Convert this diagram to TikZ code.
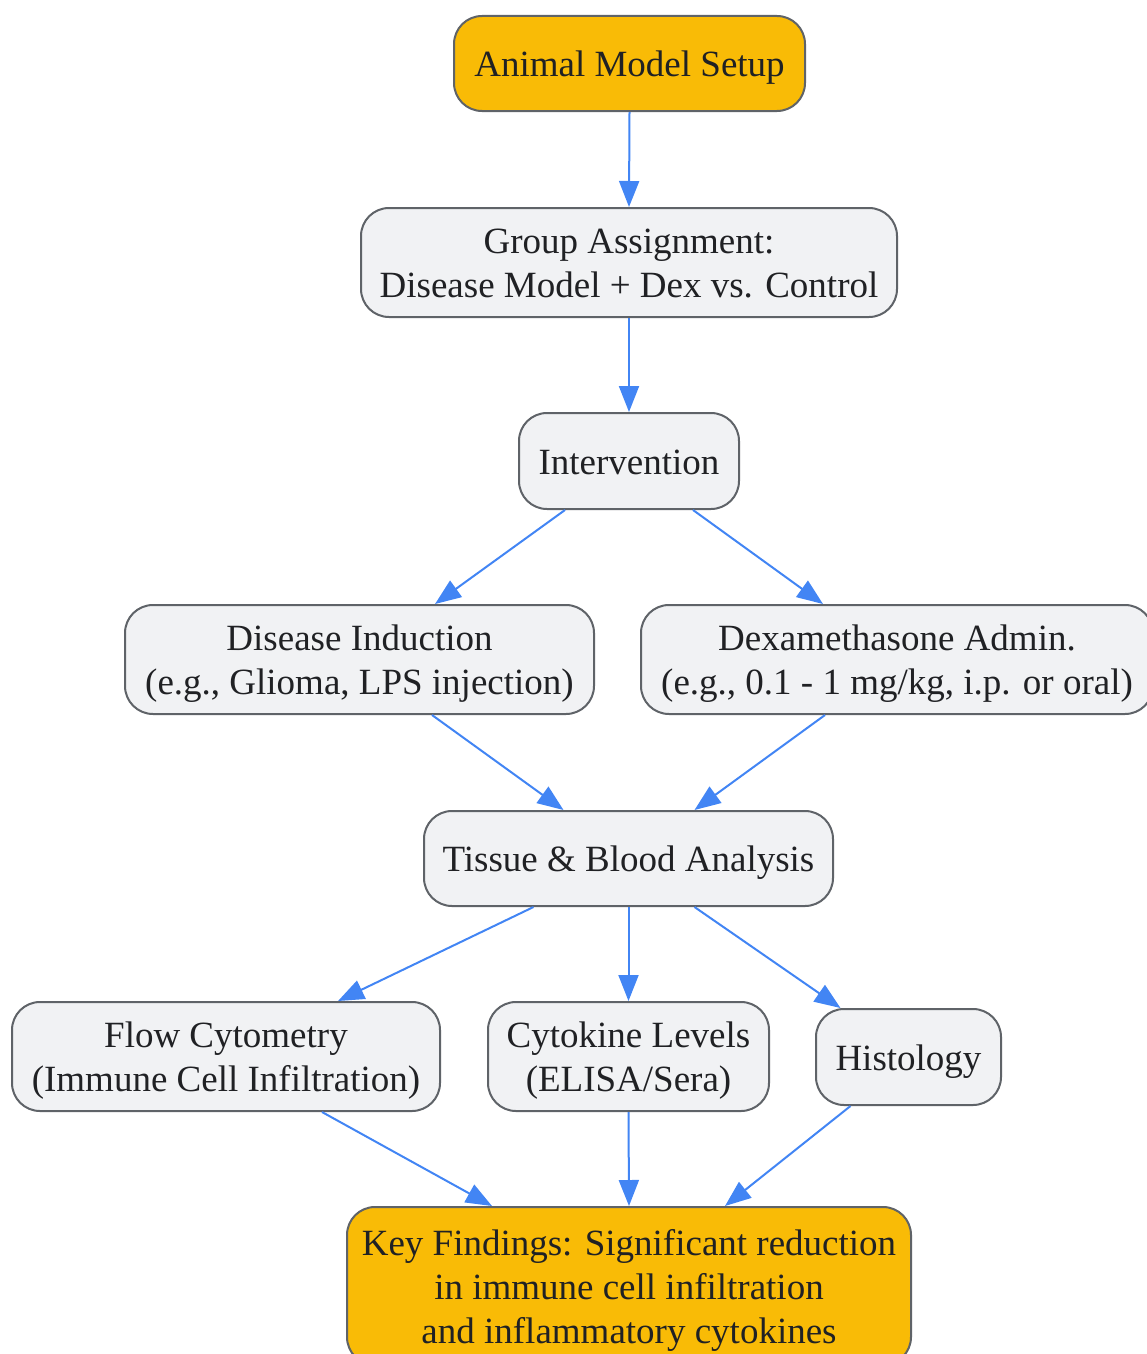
\documentclass[tikz,border=0pt]{standalone}
\usepackage{fontspec}
\setmainfont{Liberation Serif}
\usetikzlibrary{arrows.meta,calc}
\definecolor{orangefill}{HTML}{F9BB06}
\definecolor{grayfill}{HTML}{F1F2F4}
\definecolor{bordergray}{HTML}{5F6368}
\definecolor{arrowblue}{HTML}{4285F4}
\definecolor{txt}{HTML}{202124}
\newcommand\lnstrut{\rule[-9pt]{0pt}{44pt}}
\begin{document}
\begin{tikzpicture}[x=1pt,y=-1pt,
  box/.style={draw=bordergray, line width=2pt, rounded corners=28pt, fill=grayfill, text=txt, align=center, inner sep=0pt, font=\fontsize{37}{44}\selectfont},
  keybox/.style={box, fill=orangefill},
  conn/.style={draw=arrowblue, line width=2pt, -{Triangle[length=26pt,width=20pt]}}]
\useasboundingbox (0,0) rectangle (1146,1354);
\node[keybox, minimum width=351pt, minimum height=95pt] (A) at (629.5,63.5) {\lnstrut Animal Model Setup};
\node[box, minimum width=536pt, minimum height=109pt] (G) at (629,262.5) {\lnstrut Group Assignment:\\\lnstrut Disease Model + Dex vs. Control};
\node[box, minimum width=220pt, minimum height=96pt] (I) at (629,461) {\lnstrut Intervention};
\node[box, minimum width=469pt, minimum height=109pt] (DI) at (359.5,659.5) {\lnstrut Disease Induction\\\lnstrut (e.g., Glioma, LPS injection)};
\node[box, minimum width=512pt, minimum height=109pt] (DX) at (897,659.5) {\lnstrut Dexamethasone Admin.\\\lnstrut (e.g., 0.1 - 1 mg/kg, i.p. or oral)};
\node[box, minimum width=409pt, minimum height=95pt] (T) at (628.5,858.5) {\lnstrut Tissue \& Blood Analysis};
\node[box, minimum width=428pt, minimum height=109pt] (F) at (226,1056.5) {\lnstrut Flow Cytometry\\\lnstrut (Immune Cell Infiltration)};
\node[box, minimum width=281pt, minimum height=109pt] (C) at (628.5,1056.5) {\lnstrut Cytokine Levels\\\lnstrut (ELISA/Sera)};
\node[box, minimum width=185pt, minimum height=96pt] (H) at (908.5,1057) {\lnstrut Histology};
\node[keybox, minimum width=564pt, minimum height=158pt] (K) at (629,1286) {\lnstrut Key Findings: Significant reduction\\\lnstrut in immune cell infiltration\\\lnstrut and inflammatory cytokines};
\draw[conn] (A.south) -- (G.north);
\draw[conn] (G.south) -- (I.north);
\draw[conn] ($(I.south)+(-64,0)$) -- ($(DI.north)+(75.5,0)$);
\draw[conn] ($(I.south)+(64,0)$) -- ($(DX.north)+(-74,0)$);
\draw[conn] ($(DI.south)+(72.5,0)$) -- ($(T.north)+(-65,0)$);
\draw[conn] ($(DX.south)+(-72,0)$) -- ($(T.north)+(66,0)$);
\draw[conn] ($(T.south)+(-95,0)$) -- ($(F.north)+(112,0)$);
\draw[conn] (T.south) -- (C.north);
\draw[conn] ($(T.south)+(66,0)$) -- ($(H.north)+(-68,0)$);
\draw[conn] ($(F.south)+(96,0)$) -- ($(K.north)+(-137,0)$);
\draw[conn] (C.south) -- (K.north);
\draw[conn] ($(H.south)+(-58,0)$) -- ($(K.north)+(96,0)$);
\end{tikzpicture}
\end{document}
